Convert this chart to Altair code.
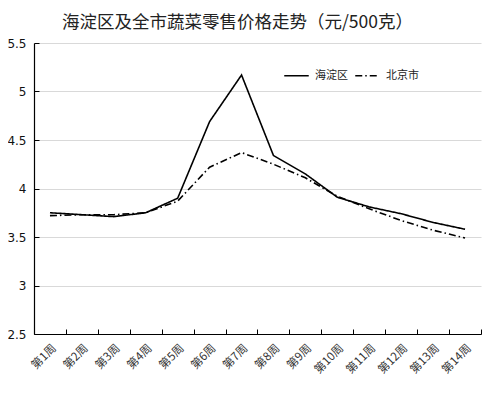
import altair as alt
import pandas as pd

weeks = ["第1周", "第2周", "第3周", "第4周", "第5周", "第6周", "第7周",
         "第8周", "第9周", "第10周", "第11周", "第12周", "第13周", "第14周"]
haidian = [3.75, 3.73, 3.71, 3.75, 3.90, 4.69, 5.17, 4.34, 4.15, 3.91, 3.81, 3.74, 3.65, 3.58]
beijing = [3.72, 3.73, 3.73, 3.75, 3.87, 4.22, 4.37, 4.25, 4.11, 3.92, 3.79, 3.67, 3.57, 3.49]
series = ["海淀区", "北京市"]
y_ticks = [2.5, 3, 3.5, 4, 4.5, 5, 5.5]

rows = []
for name, vals in zip(series, [haidian, beijing]):
    for w, v in zip(weeks, vals):
        rows.append({"week": w, "price": v, "series": name})
df = pd.DataFrame(rows)

FONT = "Noto Sans CJK SC"
W, H = 447, 291

xscale = alt.Scale(domain=weeks, paddingInner=0, paddingOuter=0)
yscale = alt.Scale(domain=[2.5, 5.5], nice=False, zero=False)

base = alt.Chart(df)

lines = base.mark_line(strokeWidth=1.6, color="black").encode(
    x=alt.X("week:O", scale=xscale, sort=weeks, title=None,
            axis=alt.Axis(orient="bottom", labelAngle=-45, labelFontSize=11.5, labelFont=FONT,
                          labelColor="#333", tickBand="extent", ticks=False,
                          domainColor="black", domainWidth=1.2, grid=False, labelPadding=8)),
    y=alt.Y("price:Q", scale=yscale, title=None,
            axis=alt.Axis(orient="left", values=y_ticks, format="~g", labelFontSize=12,
                          labelFont="DejaVu Sans", labelColor="#111", ticks=False,
                          domainColor="black", domainWidth=1.2, grid=True,
                          gridColor="#d9d9d9", gridWidth=1, labelPadding=8)),
    strokeDash=alt.StrokeDash("series:N",
        scale=alt.Scale(domain=series, range=[[1, 0], [7, 3, 1.5, 3]]),
        legend=alt.Legend(title=None, orient="none", legendX=249, legendY=19,
                          direction="horizontal", symbolType="stroke",
                          symbolStrokeColor="black", symbolStrokeWidth=1.6,
                          symbolSize=600, labelFont=FONT, labelFontSize=11,
                          labelColor="#222", columnPadding=4, labelOffset=5)),
    detail="series:N",
)

ticks_layer = base.mark_line(opacity=0).encode(
    x=alt.X("week:O", scale=xscale, sort=weeks, title=None,
            axis=alt.Axis(orient="top", offset=-H, labels=False, domain=False,
                          tickBand="extent", tickSize=5, tickColor="black", grid=False)),
    y=alt.Y("price:Q", scale=yscale, title=None,
            axis=alt.Axis(orient="right", offset=-W, labels=False, domain=False,
                          values=y_ticks, tickSize=5, tickColor="black", grid=False)),
    detail="series:N",
)

chart = alt.layer(lines, ticks_layer).resolve_axis(
    x="independent", y="independent"
).properties(
    width=W, height=H,
    title=alt.TitleParams("海淀区及全市蔬菜零售价格走势（元/500克）", fontSize=17.5,
                          font=FONT, fontWeight="normal", color="#222",
                          anchor="middle", dx=-20, offset=6),
    autosize=alt.AutoSizeParams(type="none"),
    padding={"left": 26, "top": 35, "right": 5, "bottom": 50},
).configure_view(stroke=None)

chart.save("out.html", embed_options={"renderer": "svg", "actions": False})
